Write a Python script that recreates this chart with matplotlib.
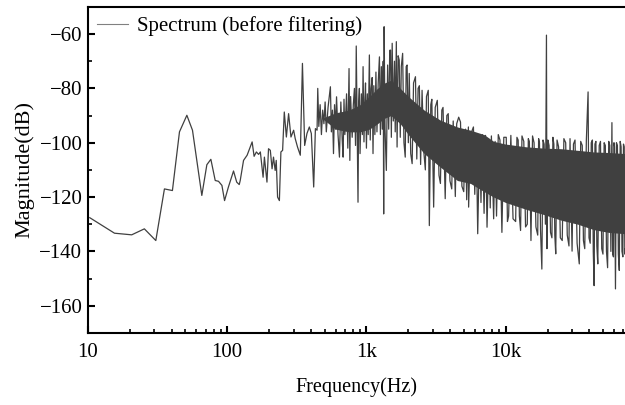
import matplotlib
matplotlib.use("Agg")
import matplotlib.pyplot as plt
from matplotlib.ticker import FixedLocator, FixedFormatter, LogLocator, MultipleLocator, NullFormatter

plt.rcParams["font.family"] = ["Liberation Serif", "DejaVu Serif"]

# sparse low-frequency part of the spectrum (Hz, dB)
f_low = [10.3, 15.5, 20.6, 25.4, 30.7, 35.4, 40.4, 45.4, 51.3, 56.3, 65.7, 71.4,
         76.3, 82, 86.6, 91.6, 95.7, 102, 111, 117, 122, 124, 131, 139, 151, 156,
         162, 168, 173, 181, 185, 193, 198, 204, 210, 215, 221, 225, 230, 237,
         243, 250, 257, 266, 276, 287, 300, 308, 320, 335, 347, 360, 374, 389,
         402, 418, 430, 442]
db_low = [-127.6, -133.3, -133.9, -131.7, -136.0, -117.0, -117.6, -96.0, -89.9, -95.4,
          -119.4, -108.1, -106.1, -113.9, -114.2, -115.7, -121.3, -116.3, -110.4,
          -114.5, -115.4, -113.9, -106.5, -104.6, -99.7, -105.0, -103.4, -104.3,
          -103.4, -112.7, -105.3, -114.5, -102.2, -102.8, -109.6, -105.3, -110.2,
          -106.5, -120.0, -121.3, -103.4, -102.8, -88.7, -97.9, -89.3, -97.9, -95.4,
          -98.5, -101.6, -104.6, -70.8, -101.0, -96.6, -94.2, -96.6, -116.3, -94.8,
          -95.4]

# dense part: peaks and dips (rows of ten)
f_dense = [447, 455, 465, 475, 485, 495, 505, 515, 530, 551,
           560, 570, 580, 590, 600, 610, 625, 640, 655, 670,
           680, 690, 700, 720, 735, 750, 760, 770, 790, 805,
           820, 835, 845, 870, 880, 890, 900, 920, 935, 946,
           960, 975, 985, 1000, 1015, 1030, 1050, 1065, 1080, 1100,
           1115, 1130, 1150, 1170, 1190, 1215, 1240, 1260, 1280, 1300,
           1320, 1330, 1340, 1360, 1390, 1420, 1445, 1470, 1490, 1510,
           1531, 1560, 1590, 1610, 1640, 1660, 1690, 1720, 1750, 1780,
           1820, 1860, 1900, 1930, 1960, 2000, 2030, 2080, 2130, 2180,
           2250, 2300, 2350, 2400, 2450, 2510, 2580, 2650, 2700, 2780,
           2830, 2900, 2950, 3040, 3120, 3230, 3320, 3400, 3480, 3550,
           3680, 3780, 3870, 3980, 4100, 4200, 4350, 4450, 4600, 4740,
           4850, 5000, 5150, 5250, 5400, 5420, 5600, 5870, 6000, 6150,
           6300, 6500, 6650, 6800, 7000, 7170, 7350, 7600, 7750, 7900,
           8200, 8400, 8600, 8850, 9100, 9400, 9700, 10100, 10300, 10500,
           10900, 11300, 11800, 12050, 12300, 12550, 12800, 13100, 13500, 13900,
           14300, 14550, 14800, 15200, 15600, 16000, 16500, 17000, 17250, 17500,
           17800, 18200, 18550, 18900, 19300, 19640, 19800, 20100, 20500, 21000,
           21500, 21850, 22200, 22550, 22900, 23400, 24000, 24700, 25500, 26200,
           27000, 27700, 28500, 29000, 30000, 30700, 31500, 32600, 33800, 34600,
           35500, 36200, 37000, 38000, 39100, 39700, 40500, 41200, 42000, 42600,
           43200, 43800, 44500, 45200, 45900, 47000, 48000, 49000, 50000, 51000,
           52000, 53000, 54000, 55000, 56000, 57000, 58000, 58700, 59500, 60000,
           60500, 61500, 62500, 63500, 64500, 65500, 66500, 67500, 68500, 69500,
           70200, 71000, 71800, 72500]
db_dense = [-80, -94, -86, -97, -88, -93, -85, -96, -87, -79.4,
            -96, -88, -104, -86, -95, -83.1, -97, -105.3, -85, -99,
            -105.3, -84, -97, -82, -102, -72.7, -106.5, -83, -98, -86,
            -80, -101, -64.4, -121.9, -85, -80, -104, -82, -97, -72,
            -99.7, -84, -78, -102, -82, -97, -67.7, -99, -80, -76,
            -104, -79, -97, -74, -96, -78, -68.4, -97, -72, -95,
            -70, -126.2, -57.3, -95, -110.2, -71.4, -95, -66, -65.9, -98,
            -63.4, -92, -70, -96, -62.8, -101.6, -68, -69.6, -98, -72,
            -67.1, -100, -105.3, -72, -71.4, -100, -74.5, -104, -107.7, -78,
            -75.7, -106, -80, -79, -108, -80.7, -103, -110, -83, -80.7,
            -130.5, -86, -84, -123.7, -87, -84.4, -112, -115, -88, -87,
            -120.6, -90, -89.3, -114, -117, -92, -119.8, -93, -90.6, -92.4,
            -116, -118, -95, -121, -94.2, -123.7, -97, -94.2, -119, -97,
            -133.5, -98, -122, -97, -126, -97.3, -131.1, -99, -124, -97.5,
            -128, -99.5, -127, -97, -99, -133, -98, -98, -129, -127,
            -97.3, -128, -129, -98, -99, -127, -132.3, -97.5, -99.5, -131,
            -130, -98.5, -99.5, -136, -97.5, -100, -131, -134, -98.5, -100,
            -132, -146.5, -99, -100.5, -130, -60.4, -139, -99, -101, -133,
            -135, -98, -100.5, -134, -140.9, -99, -101.5, -135, -136, -98.5,
            -100, -134, -138, -98.5, -139.9, -100.5, -99, -137, -144.6, -99.5,
            -101, -136, -139, -99, -81.3, -135, -137, -100, -99, -140,
            -152.6, -100.5, -99.5, -138, -144.6, -101, -99.5, -139, -141, -100,
            -101, -140, -146, -99.5, -101, -140, -92.6, -141, -142, -100,
            -101.5, -153.8, -100, -101, -141, -147, -99.5, -101.5, -140, -142,
            -100.5, -101.5, -141, -139]

# solid core of the noise band
f_core = [480, 600, 750, 900, 1050, 1200, 1350, 1500, 1750, 2000, 2600, 3400,
          4500, 5600, 7000, 8200, 10000, 14000, 19000, 25000, 33000, 43000, 55000, 72500]
core_top = [-91, -89, -88, -86, -83, -80, -78, -77, -80, -83, -88, -91.7,
            -94.2, -95.4, -97, -99.5, -100.5, -101.5, -102, -102.2, -102.8, -103.4, -103.6, -104]
core_bot = [-91, -95, -96, -96, -95, -93, -91, -90, -93, -97, -104, -109,
            -113.9, -115, -118, -120, -122, -124.5, -126.5, -128.5, -130, -132, -133, -133.5]

x_ticks = [10, 100, 1000, 10000]
x_labels = ["10", "100", "1k", "10k"]
y_ticks = [-160, -140, -120, -100, -80, -60]

line_color = "#404040"

fig = plt.figure(figsize=(6.25, 4.05), dpi=100)
ax = fig.add_axes([0.1408, 0.178, 0.8592, 0.805])

ax.fill_between(f_core, core_bot, core_top, color=line_color, lw=0)
ax.plot(f_low + f_dense, db_low + db_dense, color=line_color, lw=0.9,
        label="Spectrum (before filtering)")

ax.set_xscale("log")
ax.set_xlim(10, 72000)
ax.set_ylim(-170, -50)

ax.xaxis.set_major_locator(FixedLocator(x_ticks))
ax.xaxis.set_major_formatter(FixedFormatter(x_labels))
ax.xaxis.set_minor_locator(LogLocator(base=10, subs=range(2, 10)))
ax.xaxis.set_minor_formatter(NullFormatter())
ax.yaxis.set_major_locator(FixedLocator(y_ticks))
ax.yaxis.set_minor_locator(MultipleLocator(10))

ax.tick_params(which="major", direction="in", length=5, width=1.5, labelsize=15)
ax.tick_params(which="minor", direction="in", length=3, width=1.2)
ax.tick_params(axis="x", pad=7)
ax.tick_params(axis="y", pad=4)

for side in ["left", "bottom", "top"]:
    ax.spines[side].set_linewidth(1.5)
ax.spines["right"].set_visible(False)

ax.set_xlabel("Frequency(Hz)", fontsize=14.5, labelpad=11)
ax.set_ylabel("Magnitude(dB)", fontsize=16, labelpad=4)

leg = ax.legend(loc="upper left", frameon=False, fontsize=15, handlelength=1.45,
                handletextpad=0.45, borderaxespad=0.15, borderpad=0.3)
for h in leg.get_lines():
    h.set_color("#808080")
    h.set_linewidth(0.8)

fig.savefig("out.png", dpi=100)
